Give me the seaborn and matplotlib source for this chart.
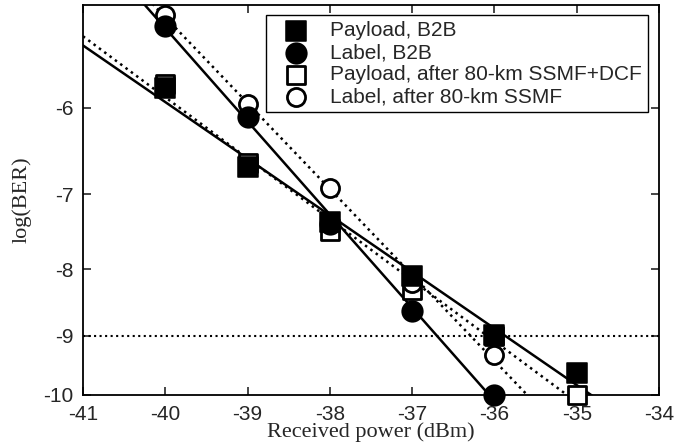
import numpy as np
import matplotlib
matplotlib.use("Agg")
import matplotlib.pyplot as plt
import seaborn as sns

# received power (dBm) and log(BER)
power_pay_b2b = [-40, -39, -38, -37, -36, -35]
ber_pay_b2b = [-5.80, -6.67, -7.35, -8.09, -8.99, -9.62]

power_lab_b2b = [-40, -39, -38, -37, -36]
ber_lab_b2b = [-5.19, -6.10, -7.38, -8.61, -10.0]

power_pay_ssmf = [-40, -39, -38, -37, -36, -35]
ber_pay_ssmf = [-5.75, -6.62, -7.47, -8.30, -9.00, -10.0]

power_lab_ssmf = [-40, -39, -38, -37, -36]
ber_lab_ssmf = [-5.09, -5.96, -6.92, -8.20, -9.31]

labels = ["Payload, B2B", "Label, B2B",
          "Payload, after 80-km SSMF+DCF", "Label, after 80-km SSMF"]

x_ticks = [-41, -40, -39, -38, -37, -36, -35, -34]
y_ticks = [-10, -9, -8, -7, -6]
ber_limit = -9


def fwd(v):
    v = np.asarray(v, dtype=float)
    return -np.log10(np.clip(-v, 1e-6, None))


def inv(u):
    return -10.0 ** (-np.asarray(u, dtype=float))


sns.set_style("ticks")
plt.rcParams["font.family"] = ["Liberation Sans", "DejaVu Sans"]

fig = plt.figure(figsize=(6.84, 4.45), dpi=100)
ax = fig.add_axes([0.1213, 0.1124, 0.8422, 0.8764])
ax.set_yscale("function", functions=(fwd, inv))

# fit lines, straight on the BER scale
xs = np.linspace(-41, -34, 50)
series = [(power_pay_b2b, ber_pay_b2b, "-", 1.8),
          (power_lab_b2b, ber_lab_b2b, "-", 1.8),
          (power_pay_ssmf, ber_pay_ssmf, ":", 1.8),
          (power_lab_ssmf, ber_lab_ssmf, ":", 1.8)]
for px, py, ls, lw in series:
    k, b = np.polyfit(px, fwd(py), 1)
    ax.plot(xs, inv(k * xs + b), color="black", linestyle=ls, linewidth=lw, zorder=2)

ax.axhline(ber_limit, color="black", linestyle=":", linewidth=1.5, zorder=1)

sns.scatterplot(x=power_pay_ssmf, y=ber_pay_ssmf, marker="s", s=150,
                facecolor="white", edgecolor="black", linewidth=2,
                label=labels[2], ax=ax, zorder=3, clip_on=False)
sns.scatterplot(x=power_lab_ssmf, y=ber_lab_ssmf, marker="o", s=170,
                facecolor="white", edgecolor="black", linewidth=2,
                label=labels[3], ax=ax, zorder=3, clip_on=False)
sns.scatterplot(x=power_pay_b2b, y=ber_pay_b2b, marker="s", s=200,
                color="black", edgecolor="black", label=labels[0], ax=ax,
                zorder=4, clip_on=False)
sns.scatterplot(x=power_lab_b2b, y=ber_lab_b2b, marker="o", s=220,
                color="black", edgecolor="black", label=labels[1], ax=ax,
                zorder=4, clip_on=False)

ax.set_xlim(-41, -34)
ax.set_ylim(-10, -5)
ax.set_xticks(x_ticks)
ax.set_yticks(y_ticks)
ax.set_xticklabels([str(t) for t in x_ticks])
ax.set_yticklabels([str(t) for t in y_ticks])
ax.minorticks_off()
ax.tick_params(direction="in", length=6, width=1.2, labelsize=15,
               top=True, right=True)
ax.tick_params(axis="x", pad=7)
ax.tick_params(axis="y", pad=7)
for sp in ax.spines.values():
    sp.set_linewidth(1.3)
    sp.set_color("black")

ax.set_xlabel("Received power (dBm)", family="Liberation Serif", fontsize=16, labelpad=-1)
ax.set_ylabel("log(BER)", family="Liberation Serif", fontsize=16, labelpad=8)

handles, labs = ax.get_legend_handles_labels()
order = [labs.index(l) for l in labels]
leg = ax.legend([handles[i] for i in order], [labs[i] for i in order],
                loc="upper right", bbox_to_anchor=(0.981, 0.974), borderaxespad=0,
                fancybox=False, framealpha=1, edgecolor="black", fontsize=15,
                handletextpad=0.5, labelspacing=0.14, borderpad=0.3,
                handlelength=2.3)
leg.get_frame().set_linewidth(1.0)
leg.set_zorder(5)

fig.savefig("out.png", dpi=100)
